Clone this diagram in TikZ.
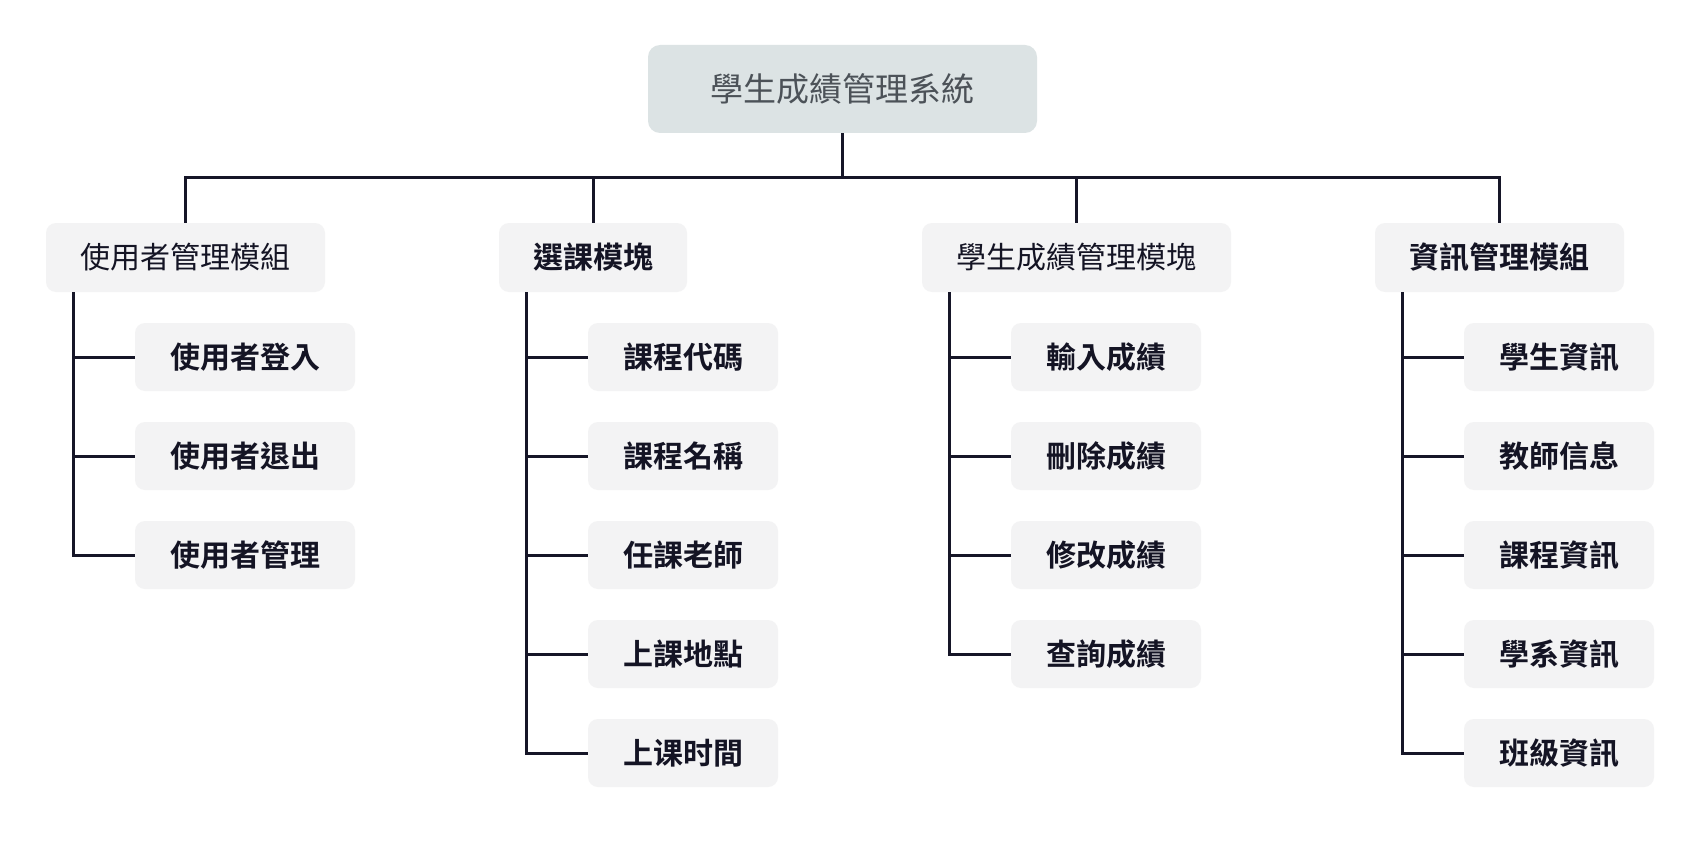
\documentclass[tikz,border=0pt]{standalone}
\usepackage{fontspec}
\newfontfamily\cjk{Noto Sans CJK TC}[BoldFont={Noto Sans CJK TC Bold}]
\definecolor{linec}{RGB}{22,22,40}
\definecolor{txtc}{RGB}{20,20,36}
\definecolor{rootfill}{RGB}{220,227,228}
\definecolor{roottxt}{RGB}{76,82,88}
\definecolor{boxfill}{RGB}{243,243,244}
\begin{document}
\begin{tikzpicture}[x=1pt,y=-1pt,
  rootbox/.style={rectangle,rounded corners=12pt,fill=rootfill,inner sep=0pt,
    minimum width=389pt,minimum height=88pt,text=roottxt,font=\cjk\fontsize{33}{36}\selectfont},
  modbox/.style={rectangle,rounded corners=10pt,fill=boxfill,inner sep=0pt,
    minimum height=69pt,text=txtc,font=\cjk\fontsize{30}{34}\selectfont},
  leafbox/.style={rectangle,rounded corners=10pt,fill=boxfill,inner sep=0pt,
    minimum height=68pt,text=txtc,font=\cjk\bfseries\fontsize{30}{34}\selectfont},
  conn/.style={draw=linec,line width=3pt}]
\useasboundingbox (0,0) rectangle (1700,848);
\fill[white] (0,0) rectangle (1700,848);

\node[rootbox] (root) at (842.5,89) {學生成績管理系統};

\node[modbox,minimum width=279pt] (A) at (185.5,257.5) {使用者管理模組};
\node[modbox,minimum width=188pt,font=\cjk\bfseries\fontsize{30}{34}\selectfont] (B) at (593,257.5) {選課模塊};
\node[modbox,minimum width=309pt] (C) at (1076.5,257.5) {學生成績管理模塊};
\node[modbox,minimum width=249pt,font=\cjk\bfseries\fontsize{30}{34}\selectfont] (D) at (1499.5,257.5) {資訊管理模組};

\coordinate (bus) at (842.5,177);
\draw[conn] (root.south) -- (bus);
\foreach \m in {A,B,C,D}{
  \draw[conn,line join=miter] (bus) -| (\m.north);
}

% group A
\node[leafbox,minimum width=220pt] (a1) at (245,357) {使用者登入};
\node[leafbox,minimum width=220pt] (a2) at (245,456) {使用者退出};
\node[leafbox,minimum width=220pt] (a3) at (245,555) {使用者管理};

% group B
\node[leafbox,minimum width=190pt] (b1) at (683,357) {課程代碼};
\node[leafbox,minimum width=190pt] (b2) at (683,456) {課程名稱};
\node[leafbox,minimum width=190pt] (b3) at (683,555) {任課老師};
\node[leafbox,minimum width=190pt] (b4) at (683,654) {上課地點};
\node[leafbox,minimum width=190pt] (b5) at (683,753) {上课时間};

% group C
\node[leafbox,minimum width=190pt] (c1) at (1106,357) {輸入成績};
\node[leafbox,minimum width=190pt] (c2) at (1106,456) {刪除成績};
\node[leafbox,minimum width=190pt] (c3) at (1106,555) {修改成績};
\node[leafbox,minimum width=190pt] (c4) at (1106,654) {查詢成績};

% group D
\node[leafbox,minimum width=190pt] (d1) at (1559,357) {學生資訊};
\node[leafbox,minimum width=190pt] (d2) at (1559,456) {教師信息};
\node[leafbox,minimum width=190pt] (d3) at (1559,555) {課程資訊};
\node[leafbox,minimum width=190pt] (d4) at (1559,654) {學系資訊};
\node[leafbox,minimum width=190pt] (d5) at (1559,753) {班級資訊};

\foreach \c in {a1,a2,a3}{\draw[conn,line join=miter] ([xshift=28pt]A.south west) |- (\c.west);}
\foreach \c in {b1,b2,b3,b4,b5}{\draw[conn,line join=miter] ([xshift=28pt]B.south west) |- (\c.west);}
\foreach \c in {c1,c2,c3,c4}{\draw[conn,line join=miter] ([xshift=28pt]C.south west) |- (\c.west);}
\foreach \c in {d1,d2,d3,d4,d5}{\draw[conn,line join=miter] ([xshift=28pt]D.south west) |- (\c.west);}
\end{tikzpicture}
\end{document}
